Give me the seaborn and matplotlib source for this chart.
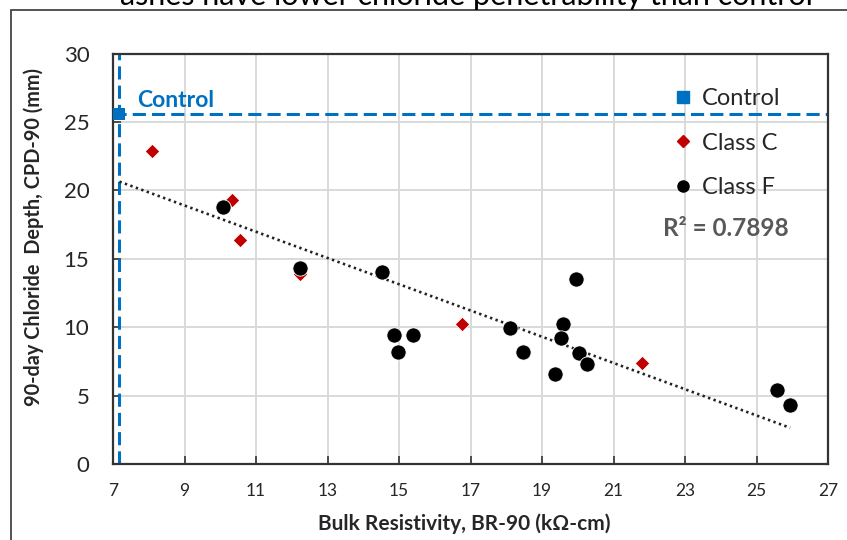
import matplotlib
matplotlib.use("Agg")
import matplotlib.pyplot as plt
from matplotlib.lines import Line2D
from matplotlib.patches import Rectangle
import numpy as np
import pandas as pd
import seaborn as sns

# Bulk resistivity (kOhm-cm) and 90-day chloride penetration depth (mm)
control_br = [7.18]
control_cpd = [25.6]

class_c_br = [8.08, 10.32, 10.54, 12.22, 16.75, 21.79]
class_c_cpd = [22.9, 19.3, 16.4, 13.9, 10.2, 7.38]

class_f_br = [10.07, 12.24, 14.53, 14.85, 15.39, 14.96, 18.10, 18.48,
              19.59, 19.54, 19.96, 20.04, 20.27, 19.37, 25.57, 25.94]
class_f_cpd = [18.8, 14.3, 14.0, 9.4, 9.4, 8.2, 9.95, 8.2,
               10.2, 9.2, 13.55, 8.08, 7.33, 6.6, 5.44, 4.32]

x_ticks = [7, 9, 11, 13, 15, 17, 19, 21, 23, 25, 27]
y_ticks = [0, 5, 10, 15, 20, 25, 30]
r2_label = "R² = 0.7898"

BLUE = "#0070C0"
RED = "#C00000"
GREY_TXT = "#595959"

sns.set_style("white")
plt.rcParams["font.family"] = ["Lato", "DejaVu Sans"]

df = pd.DataFrame({
    "br": control_br + class_c_br + class_f_br,
    "cpd": control_cpd + class_c_cpd + class_f_cpd,
    "group": (["Control"] * len(control_br) + ["Class C"] * len(class_c_br)
              + ["Class F"] * len(class_f_br)),
})

fig = plt.figure(figsize=(8.47, 5.40), dpi=100)
ax = fig.add_axes([113 / 847, 1 - 464 / 540, 715 / 847, 410.5 / 540])

# light grid
ax.set_xlim(7, 27)
ax.set_ylim(0, 30)
ax.set_xticks(x_ticks)
ax.set_yticks(y_ticks)
ax.grid(True, color="#d9d9d9", lw=1.4, zorder=0)
ax.set_axisbelow(True)

# control reference lines
ax.axvline(control_br[0], color=BLUE, lw=2.2, ls=(0, (4.3, 2.0)), zorder=2)
ax.axhline(control_cpd[0], color=BLUE, lw=2.2, ls=(0, (4.3, 2.0)), zorder=2)

# linear trend over all mixtures
sns.regplot(data=df, x="br", y="cpd", scatter=False, ci=None, truncate=True,
            ax=ax, line_kws=dict(color="#222222", lw=1.9, ls=(0, (0.9, 1.3)),
                                 zorder=3))

sns.scatterplot(data=df[df.group == "Class C"], x="br", y="cpd", ax=ax,
                marker="D", s=55, color=RED, edgecolor="white", linewidth=0.6,
                zorder=4, legend=False)
sns.scatterplot(data=df[df.group == "Class F"], x="br", y="cpd", ax=ax,
                marker="o", s=120, color="black", edgecolor="white",
                linewidth=0.6, zorder=5, legend=False)
sns.scatterplot(data=df[df.group == "Control"], x="br", y="cpd", ax=ax,
                marker="s", s=75, color=BLUE, edgecolor=BLUE, linewidth=0,
                zorder=6, legend=False, clip_on=False)

for sp in ax.spines.values():
    sp.set_color("#333333")
    sp.set_linewidth(1.6)

ax.tick_params(axis="both", direction="in", length=6, width=1.2,
               color="#333333", bottom=True, left=True)
ax.tick_params(axis="y", labelsize=16, pad=17)
ax.tick_params(axis="x", labelsize=12.5, pad=14)

ax.set_xlabel("Bulk Resistivity, BR-90 (kΩ-cm)", fontsize=15,
              fontweight="bold")
ax.set_ylabel("90-day Chloride  Depth, CPD-90 (mm)", fontsize=14.3,
              fontweight="bold")
ax.xaxis.set_label_coords(0.491, -0.145)
ax.yaxis.set_label_coords(-0.111, 0.554)
ax.xaxis.label.set_va("center")
ax.yaxis.label.set_va("center")

ax.text(7.67, 26.6, "Control", color=BLUE, fontsize=16.5, fontweight="bold",
        ha="left", va="center")
ax.text(22.38, 17.2, r2_label, color=GREY_TXT, fontsize=17.5,
        fontweight="bold", ha="left", va="center")

handles = [
    Line2D([], [], ls="none", marker="s", ms=9, color=BLUE, label="Control"),
    Line2D([], [], ls="none", marker="D", ms=6.5, color=RED, label="Class C"),
    Line2D([], [], ls="none", marker="o", ms=8, color="black", label="Class F"),
]
ax.legend(handles=handles, loc="upper left",
          bbox_to_anchor=(676 / 847, 1 - 88 / 540),
          bbox_transform=fig.transFigure, frameon=False, fontsize=17,
          handlelength=0.6, handletextpad=0.5, labelspacing=1.0,
          borderpad=0, borderaxespad=0)

# chart frame and heading line
fig.patches.append(Rectangle((11 / 847, -0.2), 1.2, 1.2 - 10 / 540,
                             transform=fig.transFigure, fill=False,
                             edgecolor="#444444", lw=1.3))
fig.text(466 / 847, 1 - 5 / 540,
         "ashes have lower chloride penetrability than control",
         ha="center", va="baseline", fontsize=22, color="black")

fig.savefig("out.png", dpi=100)
